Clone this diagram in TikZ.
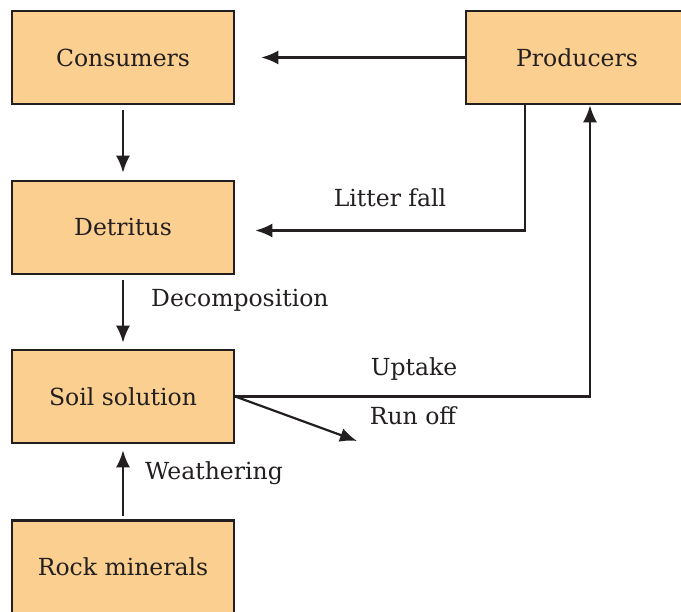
\documentclass[tikz,border=0pt]{standalone}
\usepackage{fontspec}
\setmainfont{DejaVu Serif}
\usetikzlibrary{arrows.meta}
\definecolor{boxfill}{HTML}{FBCF8F}
\definecolor{ink}{HTML}{231F20}
\begin{document}
\begin{tikzpicture}[x=1pt,y=-1pt,
  box/.style={draw=ink,fill=boxfill,line width=2.6pt,minimum width=222pt,minimum height=93pt,
    inner sep=0pt,font=\fontsize{23.5}{28}\selectfont,text=ink},
  arr/.style={draw=ink,line width=2.2pt,-{Latex[length=17pt,width=14pt]}},
  lbl/.style={font=\fontsize{23.5}{28}\selectfont,text=ink,inner sep=0pt}]
\clip (0,0) rectangle (681,612);
\fill[white] (0,0) rectangle (681,612);
\node[box] (cons) at (123,57.5) {Consumers};
\node[box] (prod) at (577,57.5) {Producers};
\node[box] (det) at (123,227.5) {Detritus};
\node[box] (soil) at (123,396.5) {Soil solution};
\node[box] (rock) at (123,567) {Rock minerals};
\coordinate (runoff) at (357,441);
\draw[arr,shorten >=26pt] (prod.west) -- (cons.east);
\draw[arr,shorten <=5pt,shorten >=7pt] (cons.south) -- (det.north);
\draw[arr,shorten >=20pt] ([xshift=-52pt]prod.south) |- ([yshift=-3pt]det.east);
\draw[arr,shorten <=5pt,shorten >=6pt] (det.south) -- (soil.north);
\draw[arr] (soil.east) -| ([xshift=13pt]prod.south);
\draw[arr] (soil.east) -- (runoff);
\draw[arr,shorten <=3pt,shorten >=6pt] (rock.north) -- (soil.south);
\node[lbl] (lf) at (390,198) {Litter fall};
\node[lbl,anchor=west] (dc) at (151,300) {Decomposition};
\node[lbl] (up) at (414,369) {Uptake};
\node[lbl] (ro) at (413,416) {Run off};
\node[lbl,anchor=west] (we) at (145,473) {Weathering};
\end{tikzpicture}
\end{document}
